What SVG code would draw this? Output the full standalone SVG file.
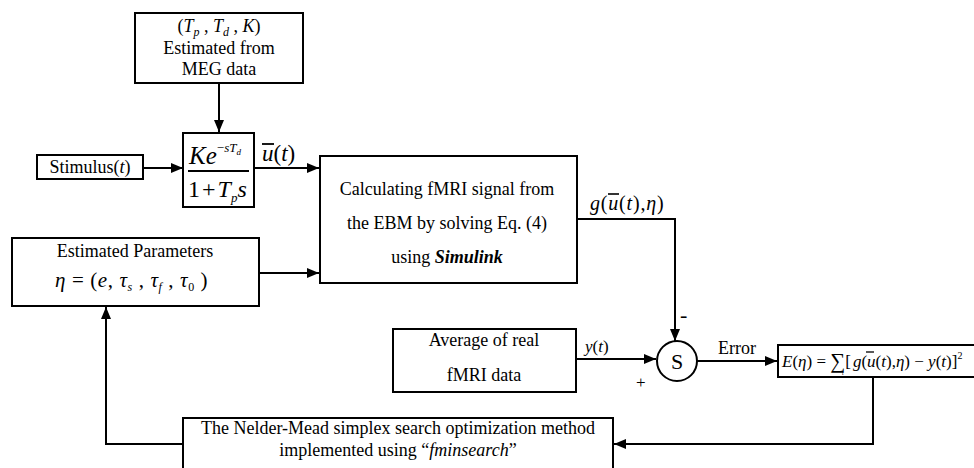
<svg xmlns="http://www.w3.org/2000/svg" width="974" height="468" viewBox="0 0 974 468" font-size="18">
  <style>
    .box { fill: #fff; stroke: #000; stroke-width: 2; }
    .wire { fill: none; stroke: #000; stroke-width: 2; }
    text { font-family: "Liberation Serif", "Times New Roman", serif; fill: #000; }
    .c { text-anchor: middle; }
    .i { font-style: italic; }
  </style>
  <defs>
    <marker id="arr" viewBox="0 0 12 10" refX="12" refY="5" markerWidth="12" markerHeight="10" markerUnits="userSpaceOnUse" orient="auto">
      <path d="M0,0 L12,5 L0,10 Z" fill="#000"/>
    </marker>
  </defs>
  <rect width="974" height="468" fill="#fff"/>

  <!-- connectors -->
  <g id="connectors">
    <line class="wire" x1="219" y1="83" x2="219" y2="132" marker-end="url(#arr)"/>
    <line class="wire" x1="143" y1="168" x2="183" y2="168" marker-end="url(#arr)"/>
    <line class="wire" x1="254" y1="168" x2="319" y2="168" marker-end="url(#arr)"/>
    <line class="wire" x1="259" y1="273" x2="319" y2="273" marker-end="url(#arr)"/>
    <polyline class="wire" points="577,219 675,219 675,341" marker-end="url(#arr)"/>
    <line class="wire" x1="576" y1="359" x2="656" y2="359" marker-end="url(#arr)"/>
    <line class="wire" x1="697" y1="361" x2="777" y2="361" marker-end="url(#arr)"/>
    <polyline class="wire" points="873,377 873,444 614,444" marker-end="url(#arr)"/>
    <polyline class="wire" points="183,444 106,444 106,307" marker-end="url(#arr)"/>
  </g>

  <!-- MEG parameter block -->
  <g id="meg">
    <rect class="box" x="135" y="13" width="168" height="70" stroke-width="2.5"/>
    <text class="c" x="219" y="32">(<tspan class="i">T</tspan><tspan class="i" font-size="12" dy="4">p</tspan><tspan dy="-4"> , </tspan><tspan class="i">T</tspan><tspan class="i" font-size="12" dy="4">d</tspan><tspan dy="-4"> , </tspan><tspan class="i">K</tspan>)</text>
    <text class="c" x="219" y="54">Estimated from</text>
    <text class="c" x="219" y="75">MEG data</text>
  </g>

  <!-- stimulus -->
  <g id="stimulus">
    <rect class="box" x="37" y="155" width="106" height="24"/>
    <text class="c" x="90" y="173">Stimulus(<tspan class="i">t</tspan>)</text>
  </g>

  <!-- transfer function -->
  <g id="transfer">
    <rect class="box" x="183" y="133" width="71" height="74"/>
    <text x="189" y="164" font-size="25"><tspan class="i">Ke</tspan><tspan font-size="13" dy="-12">−</tspan><tspan class="i" font-size="13">sT</tspan><tspan class="i" font-size="9" dy="3">d</tspan></text>
    <line x1="188" y1="171" x2="249" y2="171" stroke="#000" stroke-width="2"/>
    <text x="188" y="197" font-size="24">1<tspan dx="2">+</tspan><tspan class="i" dx="2">T</tspan><tspan class="i" font-size="13" dy="5">p</tspan><tspan class="i" dy="-5">s</tspan></text>
  </g>

  <!-- u-bar(t) label -->
  <g id="ubar">
    <text x="262" y="161" font-size="23"><tspan class="i">u</tspan>(<tspan class="i">t</tspan>)</text>
    <line x1="262" y1="144" x2="274" y2="144" stroke="#000" stroke-width="1.8"/>
  </g>

  <!-- simulation block -->
  <g id="simulink">
    <rect class="box" x="320" y="156" width="257" height="127"/>
    <text class="c" x="447" y="195">Calculating fMRI signal from</text>
    <text class="c" x="447" y="229">the EBM by solving Eq. (4)</text>
    <text class="c" x="447" y="263">using <tspan class="i" font-weight="bold">Simulink</tspan></text>
  </g>

  <!-- model output label -->
  <g id="gout">
    <text x="590" y="210" font-size="20" letter-spacing="0.8"><tspan class="i">g</tspan>(<tspan class="i">u</tspan>(<tspan class="i">t</tspan>),<tspan class="i">η</tspan>)</text>
    <line x1="608" y1="194" x2="619" y2="194" stroke="#000" stroke-width="1.6"/>
  </g>

  <!-- parameters block -->
  <g id="params">
    <rect class="box" x="12" y="238" width="247" height="68"/>
    <text class="c" x="135" y="257">Estimated Parameters</text>
    <text x="55" y="287" font-size="21" letter-spacing="0.6"><tspan class="i">η</tspan> = (<tspan class="i">e</tspan>, <tspan class="i">τ</tspan><tspan class="i" font-size="12" dy="4">s</tspan><tspan dy="-4"> , </tspan><tspan class="i">τ</tspan><tspan class="i" font-size="12" dy="4">f</tspan><tspan dy="-4"> , </tspan><tspan class="i">τ</tspan><tspan font-size="12" dy="4">0</tspan><tspan dy="-4"> )</tspan></text>
  </g>

  <!-- measured data -->
  <g id="average">
    <rect class="box" x="393" y="329" width="183" height="63"/>
    <text class="c" x="484" y="346">Average of real</text>
    <text class="c" x="484" y="381">fMRI data</text>
  </g>
  <text x="585" y="352" font-size="17"><tspan class="i">y</tspan>(<tspan class="i">t</tspan>)</text>

  <!-- summing junction -->
  <g id="sum">
    <circle cx="677" cy="361" r="20" fill="#fff" stroke="#000" stroke-width="2"/>
    <text class="c" x="677" y="369" font-size="22">S</text>
    <text x="680" y="322" font-size="22">-</text>
    <text x="636" y="388" font-size="17">+</text>
  </g>
  <text x="718" y="354">Error</text>

  <!-- cost function -->
  <g id="cost">
    <rect class="box" x="778" y="345" width="200" height="32"/>
    <text x="782" y="367" font-size="17"><tspan class="i">E</tspan>(<tspan class="i">η</tspan>) = <tspan font-size="21" dy="1">∑</tspan><tspan dy="-1">[</tspan><tspan class="i" dx="2">g</tspan>(<tspan class="i">u</tspan>(<tspan class="i">t</tspan>),<tspan class="i">η</tspan>) − <tspan class="i">y</tspan>(<tspan class="i">t</tspan>)]<tspan font-size="10" dy="-8">2</tspan></text>
    <text x="842" y="375" font-size="6" class="i">t</text>
    <line x1="866" y1="352" x2="874" y2="352" stroke="#000" stroke-width="1.3"/>
  </g>

  <!-- optimizer -->
  <g id="optimizer">
    <rect class="box" x="183" y="418" width="430" height="60"/>
    <text class="c" x="398" y="434">The Nelder-Mead simplex search optimization method</text>
    <text class="c" x="398" y="456">implemented using “<tspan class="i">fminsearch</tspan>”</text>
  </g>
</svg>
